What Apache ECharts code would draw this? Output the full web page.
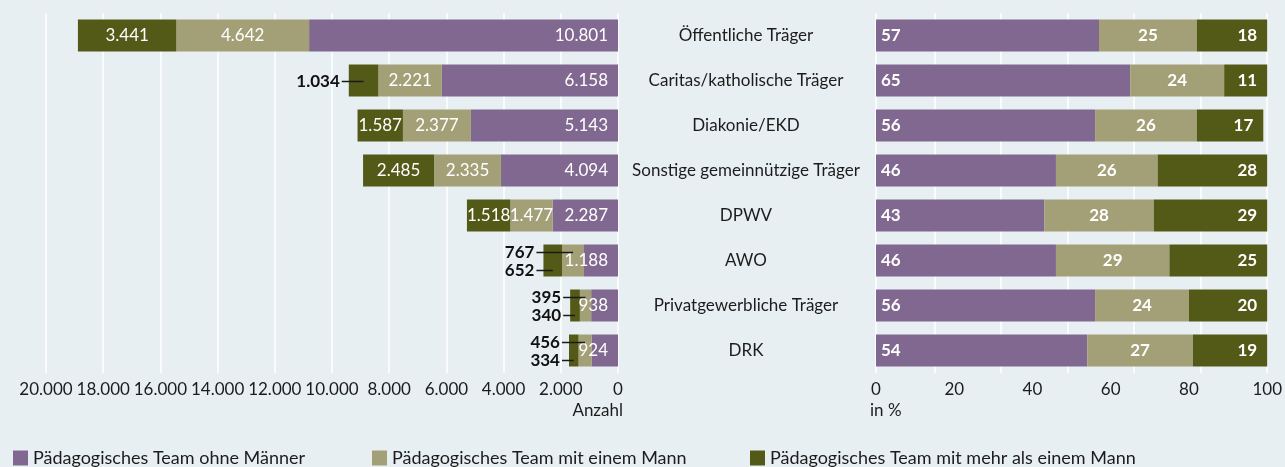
<!DOCTYPE html>
<html lang="de">
<head>
<meta charset="UTF-8">
<title>Pädagogische Teams nach Träger</title>
<script src="https://cdn.jsdelivr.net/npm/echarts@6/dist/echarts.min.js"></script>
<style>html,body{margin:0;padding:0;background:#e7eff2;}</style>
</head>
<body>
<div id="main" style="width:1285px;height:467px;"></div>
<script>
// Daten
var traeger = ['Öffentliche Träger', 'Caritas/katholische Träger', 'Diakonie/EKD', 'Sonstige gemeinnützige Träger',
  'DPWV', 'AWO', 'Privatgewerbliche Träger', 'DRK'];
var anzOhne = [10801, 6158, 5143, 4094, 2287, 1188, 938, 924];
var anzEinem = [4642, 2221, 2377, 2335, 1477, 767, 395, 456];
var anzMehr = [3441, 1034, 1587, 2485, 1518, 652, 340, 334];
var pctOhne = [57, 65, 56, 46, 43, 46, 56, 54];
var pctEinem = [25, 24, 26, 26, 28, 29, 24, 27];
var pctMehr = [18, 11, 17, 28, 29, 25, 20, 19];
var namen = ['Pädagogisches Team ohne Männer', 'Pädagogisches Team mit einem Mann', 'Pädagogisches Team mit mehr als einem Mann'];

var FONT = 'Lato, sans-serif';
var cPurple = '#806890', cLight = '#a3a077', cDark = '#535a17';
var txt = '#1c1c1c';

// Werte, die links neben dem Balken stehen
var aussen = {1: ['mehr'], 5: ['einem', 'mehr'], 6: ['einem', 'mehr'], 7: ['einem', 'mehr']};

function fmt(v) {
  return String(v).replace(/\B(?=(\d{3})+(?!\d))/g, '.');
}

function linksDaten(arr, key) {
  return arr.map(function (v, i) {
    var weg = aussen[i] && aussen[i].indexOf(key) >= 0;
    return weg ? {value: v, label: {show: false}} : v;
  });
}

var myChart = echarts.init(document.getElementById('main'));

var lblLeft = {show: true, color: '#fff', fontSize: 17, fontFamily: FONT, formatter: function (p) { return fmt(p.value); }};
var lblRight = {show: true, color: '#fff', fontSize: 17, fontWeight: 'bold', fontFamily: FONT};

var option = {
  backgroundColor: '#e7eff2',
  animation: false,
  textStyle: {fontFamily: FONT},
  grid: [
    {left: 46, right: 667, top: 13, height: 360},
    {left: 876, right: 15, top: 13, height: 360}
  ],
  xAxis: [
    {
      gridIndex: 0, type: 'value', min: 0, max: 20000, interval: 2000, inverse: true,
      axisLine: {show: false}, axisTick: {show: false},
      axisLabel: {color: txt, fontSize: 17, formatter: fmt},
      splitLine: {lineStyle: {color: '#fff', width: 1.5}}
    },
    {
      gridIndex: 1, type: 'value', min: 0, max: 100, interval: 20,
      axisLine: {show: false}, axisTick: {show: false},
      axisLabel: {color: txt, fontSize: 17},
      splitLine: {show: false}
    },
    {
      // Gitterlinien rechts (versetzt wie im Original)
      gridIndex: 1, type: 'value', min: 0, max: 100, interval: 17, inverse: true, position: 'bottom',
      axisLine: {show: false}, axisTick: {show: false}, axisLabel: {show: false},
      splitLine: {lineStyle: {color: '#fff', width: 1.5}}
    }
  ],
  yAxis: [
    {
      gridIndex: 0, type: 'category', data: traeger, inverse: true,
      axisLine: {show: false}, axisTick: {show: false}, axisLabel: {show: false}
    },
    {
      gridIndex: 1, type: 'category', data: traeger, inverse: true,
      axisLine: {show: false}, axisTick: {show: false},
      axisLabel: {color: txt, fontSize: 17, margin: 130, align: 'center'}
    }
  ],
  legend: [
    {data: [namen[0]], left: 13, top: 449},
    {data: [namen[1]], left: 372, top: 449},
    {data: [namen[2]], left: 750, top: 449}
  ].map(function (l) {
    l.icon = 'rect'; l.itemWidth = 15; l.itemHeight = 15; l.itemGap = 0; l.padding = 0;
    l.textStyle = {color: txt, fontSize: 18, fontFamily: FONT, padding: [0, 0, 0, 0]};
    return l;
  }),
  graphic: [
    {type: 'text', right: 662, top: 402, style: {text: 'Anzahl', fill: txt, font: '17px ' + FONT}},
    {type: 'text', left: 870, top: 402, style: {text: 'in %', fill: txt, font: '17px ' + FONT}}
  ],
  series: [
    {name: namen[0], type: 'bar', stack: 'L', xAxisIndex: 0, yAxisIndex: 0, barWidth: 32,
      itemStyle: {color: cPurple}, label: Object.assign({position: 'insideRight', distance: 10}, lblLeft),
      data: anzOhne},
    {name: namen[1], type: 'bar', stack: 'L', xAxisIndex: 0, yAxisIndex: 0, barWidth: 32,
      itemStyle: {color: cLight}, label: Object.assign({position: 'inside'}, lblLeft),
      data: linksDaten(anzEinem, 'einem')},
    {name: namen[2], type: 'bar', stack: 'L', xAxisIndex: 0, yAxisIndex: 0, barWidth: 32,
      itemStyle: {color: cDark}, label: Object.assign({position: 'inside'}, lblLeft),
      data: linksDaten(anzMehr, 'mehr')},
    {name: namen[0], type: 'bar', stack: 'R', xAxisIndex: 1, yAxisIndex: 1, barWidth: 32,
      itemStyle: {color: cPurple}, label: Object.assign({position: 'insideLeft', distance: 5}, lblRight),
      data: pctOhne},
    {name: namen[1], type: 'bar', stack: 'R', xAxisIndex: 1, yAxisIndex: 1, barWidth: 32,
      itemStyle: {color: cLight}, label: Object.assign({position: 'inside'}, lblRight),
      data: pctEinem},
    {name: namen[2], type: 'bar', stack: 'R', xAxisIndex: 1, yAxisIndex: 1, barWidth: 32,
      itemStyle: {color: cDark}, label: Object.assign({position: 'insideRight', distance: 10}, lblRight),
      data: pctMehr},
    {
      // kleine Werte mit Hinweislinie
      type: 'custom', xAxisIndex: 0, yAxisIndex: 0, silent: true, z: 10,
      encode: {x: 0, y: 1},
      data: Object.keys(aussen).map(function (k) { return [0, +k]; }),
      renderItem: function (params, api) {
        var i = api.value(1);
        var total = anzOhne[i] + anzEinem[i] + anzMehr[i];
        var pEnd = api.coord([total, i]);
        var segs = aussen[i];
        var children = [];
        segs.forEach(function (key) {
          var start = key === 'einem' ? anzOhne[i] : anzOhne[i] + anzEinem[i];
          var w = key === 'einem' ? anzEinem[i] : anzMehr[i];
          var pm = api.coord([start + w / 2, i]);
          var dy = segs.length === 1 ? 0 : (key === 'einem' ? -9 : 9);
          var y = Math.round(pEnd[1] + dy) + 0.5;
          children.push({type: 'line', z2: 10, shape: {x1: pEnd[0] - 7, y1: y, x2: pm[0], y2: y},
            style: {stroke: '#1a1a1a', lineWidth: 1.5}});
          children.push({type: 'text', z2: 10, style: {x: pEnd[0] - 9, y: y, text: fmt(w), align: 'right',
            verticalAlign: 'middle', font: 'bold 17px ' + FONT, fill: '#111'}});
        });
        return {type: 'group', children: children};
      }
    }
  ]
};

myChart.setOption(option);
</script>
</body>
</html>
